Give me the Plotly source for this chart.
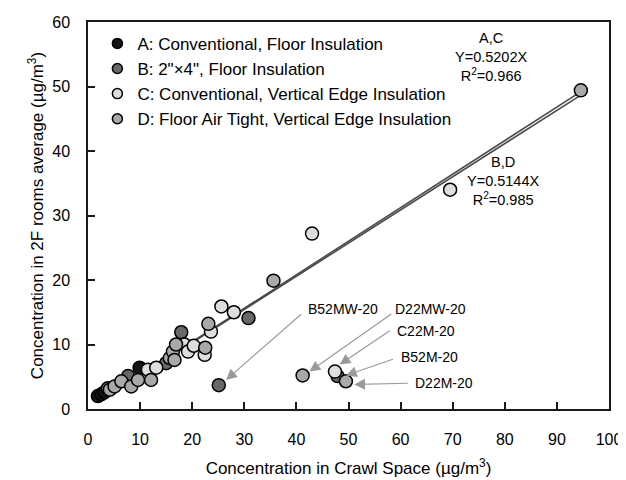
import plotly.graph_objects as go

# ---- data (µg/m3) ----
a_x = [1.9, 2.6, 3.2, 9.9]
a_y = [2.0, 2.3, 2.6, 6.4]

b_x = [3.8, 7.7, 15.0, 17.9, 30.8, 25.1, 47.9]
b_y = [3.2, 5.1, 7.1, 11.9, 14.1, 3.7, 5.1]

c_x = [11.5, 13.1, 18.5, 19.2, 20.3, 22.4, 23.6, 25.6, 28.0, 43.0, 69.5, 47.4]
c_y = [6.1, 6.4, 10.0, 8.9, 9.8, 8.4, 12.0, 15.9, 15.0, 27.2, 34.0, 5.8]

d_x = [4.2, 5.1, 6.4, 8.3, 9.6, 12.1, 15.7, 16.3, 16.6, 16.9, 22.5, 23.1, 35.6, 94.6, 41.2, 49.5]
d_y = [3.0, 3.5, 4.3, 3.5, 4.5, 4.5, 7.9, 8.9, 7.6, 10.0, 9.5, 13.2, 19.9, 49.4, 5.2, 4.3]

series_names = ["A: Conventional, Floor Insulation",
                "B: 2\"×4\", Floor Insulation",
                "C: Conventional, Vertical Edge Insulation",
                "D: Floor Air Tight, Vertical Edge Insulation"]

slope_ac = 0.5202
slope_bd = 0.5144
fit_x = [2.0, 94.6]

point_labels = ["B52MW-20", "D22MW-20", "C22M-20", "B52M-20", "D22M-20"]
label_x = [48.9, 65.8, 64.9, 65.5, 68.4]
label_y = [15.5, 15.5, 12.05, 8.06, 4.03]
arrow_from_x = [41.2, 58.5, 58.2, 58.8, 61.7]
arrow_from_y = [14.9, 14.9, 12.3, 7.8, 4.0]
arrow_to_x = [26.5, 42.5, 48.3, 49.5, 51.1]
arrow_to_y = [4.5, 5.8, 6.9, 5.2, 3.8]

FONT = "Liberation Sans, Arial, sans-serif"
fills = ["#141414", "#686868", "#dedede", "#a9a9a9"]

fig = go.Figure()

# regression lines
fig.add_trace(go.Scatter(x=fit_x, y=[slope_ac * v for v in fit_x], mode="lines",
                         line=dict(color="#4a4a4a", width=1.6), showlegend=False, hoverinfo="skip"))
fig.add_trace(go.Scatter(x=fit_x, y=[slope_bd * v for v in fit_x], mode="lines",
                         line=dict(color="#4a4a4a", width=1.6), showlegend=False, hoverinfo="skip"))

for i, (xs, ys) in enumerate([(a_x, a_y), (b_x, b_y), (c_x, c_y), (d_x, d_y)]):
    fig.add_trace(go.Scatter(x=xs, y=ys, mode="markers", showlegend=False,
                             marker=dict(size=13, color=fills[i],
                                         line=dict(color="#000000", width=1.5))))

for i, name in enumerate(series_names):
    fig.add_trace(go.Scatter(x=[None], y=[None], mode="markers", name=name,
                             legendgroup=f"g{i}",
                             marker=dict(size=10, color=fills[i],
                                         line=dict(color="#000000", width=1.5))))

annotations = []
for t, x, y in zip(point_labels, label_x, label_y):
    annotations.append(dict(x=x, y=y, xref="x", yref="y", text=t, showarrow=False,
                            font=dict(family=FONT, size=14, color="#000")))
for fx, fy, tx, ty in zip(arrow_from_x, arrow_from_y, arrow_to_x, arrow_to_y):
    annotations.append(dict(x=tx, y=ty, xref="x", yref="y", ax=fx, ay=fy, axref="x", ayref="y",
                            text="", showarrow=True, arrowhead=2, arrowsize=1.8, arrowwidth=1.2,
                            arrowcolor="#9a9a9a", standoff=0, startstandoff=0))

annotations.append(dict(x=0.847, y=0.985, xref="paper", yref="paper", yanchor="top",
                        text="A,C<br>Y=0.5202X<br>R<sup>2</sup>=0.966", showarrow=False, align="center",
                        font=dict(family=FONT, size=14.5, color="#000")))
annotations.append(dict(x=0.869, y=0.665, xref="paper", yref="paper", yanchor="top",
                        text="B,D<br>Y=0.5144X<br>R<sup>2</sup>=0.985", showarrow=False, align="center",
                        font=dict(family=FONT, size=14.5, color="#000")))

axis_common = dict(showline=True, linecolor="#1a1a1a", linewidth=1.5, mirror=True,
                   ticks="inside", ticklen=7, tickwidth=1.5, tickcolor="#1a1a1a",
                   showgrid=False, zeroline=False, dtick=10,
                   tickfont=dict(family=FONT, size=16, color="#000"))

fig.update_layout(
    width=626, height=480,
    margin=dict(l=80, r=25, t=14, b=79, autoexpand=False),
    paper_bgcolor="white", plot_bgcolor="white",
    font=dict(family=FONT, color="#000"),
    xaxis=dict(range=[0, 100], ticklabelstandoff=15,
               title=dict(text="Concentration in Crawl Space (µg/m<sup>3</sup>)",
                          font=dict(family=FONT, size=17), standoff=15),
               **axis_common),
    yaxis=dict(range=[0, 60], ticklabelstandoff=13,
               title=dict(text="Concentration in 2F rooms average (µg/m<sup>3</sup>)",
                          font=dict(family=FONT, size=17), standoff=4),
               **axis_common),
    legend=dict(x=0.018, y=0.99, xanchor="left", yanchor="top", bgcolor="rgba(0,0,0,0)",
                font=dict(family=FONT, size=17), tracegroupgap=0, itemwidth=30),
    annotations=annotations,
)

fig.write_html("out.html")
